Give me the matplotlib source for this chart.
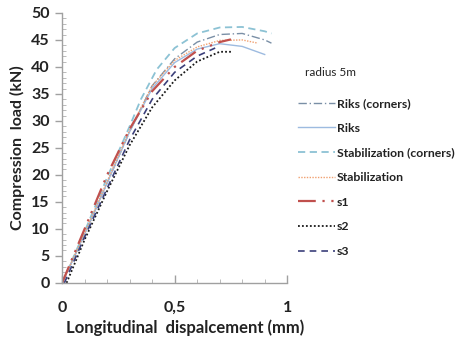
import matplotlib
matplotlib.use("Agg")
import matplotlib.pyplot as plt
from matplotlib.ticker import MultipleLocator, FixedLocator

plt.rcParams['font.family'] = ['Lato', 'DejaVu Sans']

# Data (displacement mm, load kN)
riks_c_x = [0, 0.1, 0.2, 0.3, 0.4, 0.5, 0.6, 0.7, 0.8, 0.9, 0.93]
riks_c_y = [0, 9, 18.5, 28, 36.5, 41.5, 44.6, 46.0, 46.2, 45.0, 44.4]
riks_x = [0, 0.1, 0.2, 0.3, 0.4, 0.5, 0.6, 0.7, 0.8, 0.9]
riks_y = [0, 9, 18.5, 28, 36, 40.8, 43.3, 44.3, 43.8, 42.3]
stab_c_x = [0, 0.1, 0.2, 0.3, 0.35, 0.42, 0.5, 0.6, 0.7, 0.8, 0.9, 0.93]
stab_c_y = [0, 9.5, 19.5, 29, 34, 39.5, 43.5, 46.2, 47.3, 47.4, 46.6, 46.2]
stab_x = [0, 0.1, 0.2, 0.3, 0.4, 0.5, 0.6, 0.7, 0.8, 0.87]
stab_y = [0, 9.2, 18.8, 28.3, 36.5, 41.2, 43.7, 44.9, 45.0, 44.4]
s1_x = [0, 0.1, 0.2, 0.3, 0.4, 0.5, 0.6, 0.7, 0.75]
s1_y = [0, 10, 20, 28.5, 35.5, 40, 43, 44.6, 45.1]
s2_x = [0.02, 0.1, 0.2, 0.3, 0.4, 0.5, 0.6, 0.7, 0.75]
s2_y = [0, 8, 17, 25.5, 32.5, 37.5, 41, 42.8, 42.8]
s3_x = [0.01, 0.1, 0.2, 0.3, 0.4, 0.5, 0.6, 0.68]
s3_y = [0, 8.5, 17.5, 26.5, 34, 39, 42, 43.5]

fig = plt.figure(figsize=(4.67, 3.40), dpi=100)
ax = fig.add_axes([0.133, 0.168, 0.482, 0.794])

ax.plot(riks_c_x, riks_c_y, color='#7a8fa6', lw=1.0, ls=(0, (6, 2, 1, 2)), label='Riks (corners)')
ax.plot(riks_x, riks_y, color='#9dbbe0', lw=1.0, ls='-', label='Riks')
ax.plot(stab_c_x, stab_c_y, color='#8cc2d4', lw=1.3, ls=(0, (4, 2.5)), label='Stabilization (corners)')
ax.plot(stab_x, stab_y, color='#f0a070', lw=1.0, ls=(0, (1, 1)), label='Stabilization')
ax.plot(s1_x, s1_y, color='#c0504d', lw=1.6, ls=(0, (8, 3, 1, 3, 1, 3)), label='s1')
ax.plot(s2_x, s2_y, color='#1a1a1a', lw=1.3, ls=(0, (1, 1.2)), label='s2')
ax.plot(s3_x, s3_y, color='#3b3f7a', lw=1.2, ls=(0, (4, 3)), label='s3')

ax.set_xlim(0, 1)
ax.set_ylim(0, 50)
ax.xaxis.set_major_locator(FixedLocator([0, 0.5, 1]))
ax.set_xticklabels(['0', '0,5', '1'])
ax.xaxis.set_minor_locator(MultipleLocator(0.1))
ax.yaxis.set_major_locator(MultipleLocator(5))
ax.yaxis.set_minor_locator(MultipleLocator(1))

for s in ['top', 'right']:
    ax.spines[s].set_visible(False)
for s in ['left', 'bottom']:
    ax.spines[s].set_color('#a0a0a0')
    ax.spines[s].set_linewidth(1.0)

ax.tick_params(axis='both', which='major', colors='#a0a0a0', labelcolor='#222222',
               labelsize=11.5, length=5, width=1)
ax.tick_params(axis='y', which='major', direction='out', pad=4)
ax.tick_params(axis='y', which='minor', direction='in', length=3, colors='#b0b0b0')
ax.tick_params(axis='x', which='major', direction='in', length=6, pad=13)
ax.tick_params(axis='x', which='minor', direction='in', length=3, colors='#b0b0b0')
for lab in ax.get_xticklabels() + ax.get_yticklabels():
    lab.set_fontweight('bold')

ax.set_xlabel('Longitudinal  dispalcement (mm)', fontsize=12, fontweight='bold', color='#222222')
ax.xaxis.set_label_coords(0.545, -0.135)
ax.set_ylabel('Compression  load (kN)', fontsize=11.5, fontweight='bold', color='#222222', labelpad=4)

fig.text(305 / 467, 1 - 73 / 340, 'radius 5m', fontsize=8.5, color='#222222', va='center', ha='left')

leg = ax.legend(loc='upper left', bbox_to_anchor=(0.638, 1 - 98 / 340), bbox_transform=fig.transFigure,
                frameon=False, fontsize=8.8, handlelength=3.0, handletextpad=0.2,
                labelspacing=1.12, borderpad=0.0, borderaxespad=0)
for t in leg.get_texts():
    t.set_fontweight('bold')
    t.set_color('#222222')

fig.savefig('out.png', dpi=100)
